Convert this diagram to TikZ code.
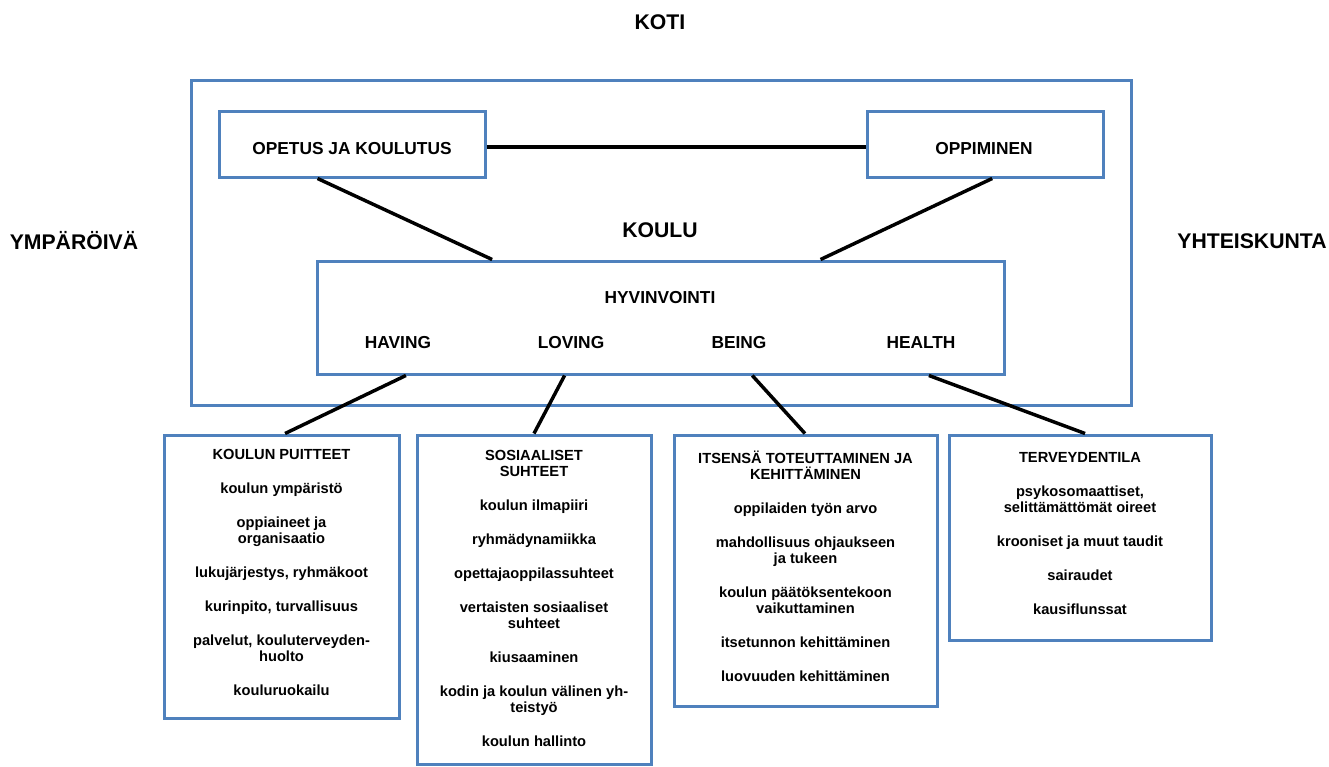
\documentclass[tikz,border=0pt]{standalone}
\usepackage{fontspec}
\setmainfont{Liberation Sans}
\usetikzlibrary{calc}
\definecolor{boxblue}{HTML}{4F81BD}
\newcommand\fsBig{\fontsize{15.9}{18}\selectfont\bfseries}
\newcommand\fsMid{\fontsize{13}{15}\selectfont\bfseries}
\newcommand\fsHyv{\fontsize{13}{15}\selectfont\bfseries}
\newcommand\fsSmall{\fontsize{11}{12}\selectfont\bfseries\lineskiplimit=-20pt\lineskip=0pt}
\tikzset{
  bluebox/.style={draw=boxblue, line width=2.25pt, fill=none, inner sep=0pt},
  conn/.style={draw=black, line width=2.6pt},
  lbl/.style={inner sep=0pt},
  boxtext/.style={inner sep=0pt, anchor=north, align=center, font=\fsSmall},
}
\begin{document}
\begin{tikzpicture}[x=0.75pt,y=-0.75pt]
\useasboundingbox[fill=white] (0,0) rectangle (1329,767);

% boxes
\node[bluebox, minimum width=705pt, minimum height=243pt] (koulu) at (661,243) {};
\node[bluebox, minimum width=199.5pt, minimum height=48.75pt] (op) at (352,144.5) {};
\node[bluebox, minimum width=177pt, minimum height=48.75pt] (opp) at (985,144.5) {};
\node[bluebox, minimum width=515.25pt, minimum height=84.75pt] (hyv) at (660.5,317.5) {};
\node[bluebox, minimum width=176.25pt, minimum height=212.25pt] (b1) at (281.5,576.5) {};
\node[bluebox, minimum width=175.5pt, minimum height=246.75pt] (b2) at (534,599.5) {};
\node[bluebox, minimum width=197.25pt, minimum height=203.25pt] (b3) at (805.5,570.5) {};
\node[bluebox, minimum width=196.5pt, minimum height=153.75pt] (b4) at (1080,537.5) {};

% outer labels
\node[lbl, font=\fsBig] (koti) at (660,22) {KOTI};
\node[lbl, font=\fsBig] (ymp) at (74,241) {YMPÄRÖIVÄ};
\node[lbl, font=\fsBig] (yht) at (1252,241) {YHTEISKUNTA};
\node[lbl, font=\fsBig] (kouluL) at (660,230) {KOULU};

% inner labels
\node[lbl, font=\fsMid] (opL) at (352,149) {OPETUS JA KOULUTUS};
\node[lbl, font=\fsMid] (oppL) at (984,149) {OPPIMINEN};
\node[lbl, font=\fsHyv] (hyvL) at (660,298) {HYVINVOINTI};
\node[lbl, font=\fsHyv] (having) at (398,343) {HAVING};
\node[lbl, font=\fsHyv] (loving) at (571,343) {LOVING};
\node[lbl, font=\fsHyv] (being) at (739,343) {BEING};
\node[lbl, font=\fsHyv] (health) at (921,343) {HEALTH};

% box texts
\node[boxtext] (b1t) at (281.5,448) {\strut KOULUN PUITTEET\\[13.5pt]
koulun ympäristö\\[13.5pt]
oppiaineet ja\\organisaatio\\[13.5pt]
lukujärjestys, ryhmäkoot\\[13.5pt]
kurinpito, turvallisuus\\[13.5pt]
palvelut, kouluterveyden-\\huolto\\[13.5pt]
kouluruokailu};
\node[boxtext] (b2t) at (534,449.5) {\strut SOSIAALISET\\SUHTEET\\[13.5pt]
koulun ilmapiiri\\[13.5pt]
ryhmädynamiikka\\[13.5pt]
opettajaoppilassuhteet\\[13.5pt]
vertaisten sosiaaliset\\suhteet\\[13.5pt]
kiusaaminen\\[13.5pt]
kodin ja koulun välinen yh-\\teistyö\\[13.5pt]
koulun hallinto};
\node[boxtext] (b3t) at (805.5,451) {\strut ITSENSÄ TOTEUTTAMINEN JA\\KEHITTÄMINEN\\[13.5pt]
oppilaiden työn arvo\\[13.5pt]
mahdollisuus ohjaukseen\\ja tukeen\\[13.5pt]
koulun päätöksentekoon\\vaikuttaminen\\[13.5pt]
itsetunnon kehittäminen\\[13.5pt]
luovuuden kehittäminen};
\node[boxtext] (b4t) at (1080,451) {\strut TERVEYDENTILA\\[13.5pt]
psykosomaattiset,\\selittämättömät oireet\\[13.5pt]
krooniset ja muut taudit\\[13.5pt]
sairaudet\\[13.5pt]
kausiflunssat};

% connectors
\draw[conn] ($(op.east)+(0,2.5)$) -- ($(opp.west)+(0,2.5)$);
\draw[conn] ($(op.south west)!0.372!(op.south east)$) -- ($(hyv.north west)!0.256!(hyv.north east)$);
\draw[conn] ($(opp.south west)!0.53!(opp.south east)$) -- ($(hyv.north west)!0.732!(hyv.north east)$);
\draw[conn] ($(hyv.south west)!0.131!(hyv.south east)$) -- ($(b1.north west)!0.515!(b1.north east)$);
\draw[conn] ($(hyv.south west)!0.361!(hyv.south east)$) -- ($(b2.north west)!0.5!(b2.north east)$);
\draw[conn] ($(hyv.south west)!0.633!(hyv.south east)$) -- ($(b3.north west)!0.498!(b3.north east)$);
\draw[conn] ($(hyv.south west)!0.889!(hyv.south east)$) -- ($(b4.north west)!0.519!(b4.north east)$);
\end{tikzpicture}
\end{document}
